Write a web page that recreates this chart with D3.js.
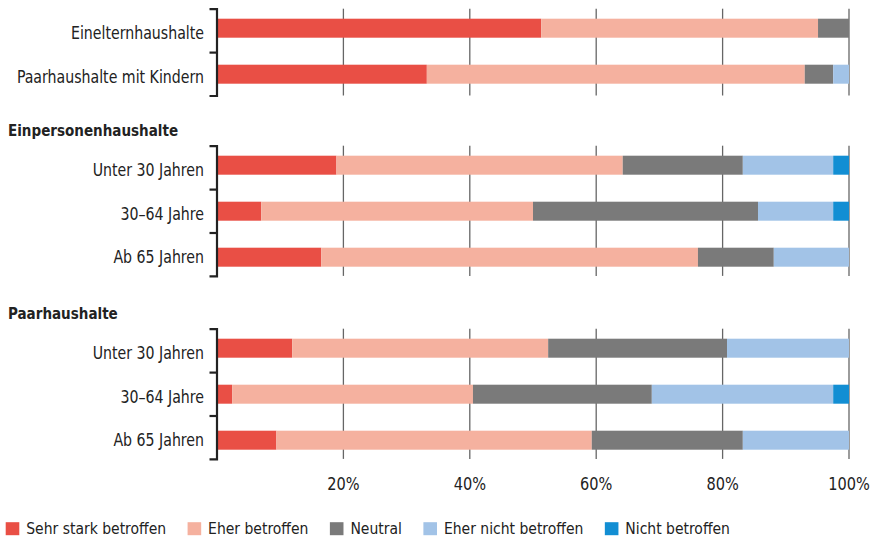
<!DOCTYPE html>
<html><head><meta charset="utf-8">
<script src="https://cdn.jsdelivr.net/npm/d3@7"></script>
<style>
html,body{margin:0;padding:0;background:#fff;}
svg text{font-family:"DejaVu Sans Condensed","Roboto",sans-serif;fill:#222;}
</style></head>
<body><svg id="c" width="871" height="537"></svg>
<script>
// ---- data ----
const groupTitles = ["", "Einpersonenhaushalte", "Paarhaushalte"];
const categories = ["Einelternhaushalte", "Paarhaushalte mit Kindern",
  "Unter 30 Jahren", "30–64 Jahre", "Ab 65 Jahren",
  "Unter 30 Jahren", "30–64 Jahre", "Ab 65 Jahren"];
const categoryGroup = [0, 0, 1, 1, 1, 2, 2, 2];
const seriesNames = ["Sehr stark betroffen", "Eher betroffen", "Neutral", "Eher nicht betroffen", "Nicht betroffen"];
const sehrStark      = [51.3, 33.2, 18.9,  7.0, 16.5, 11.9,  2.4,  9.4];
const eherBetroffen  = [43.8, 59.8, 45.3, 43.0, 59.6, 40.5, 38.1, 49.9];
const neutral        = [ 4.9,  4.5, 19.0, 35.6, 12.0, 28.3, 28.3, 23.9];
const eherNicht      = [ 0.0,  2.5, 14.3, 11.9, 11.9, 19.3, 28.7, 16.8];
const nichtBetroffen = [ 0.0,  0.0,  2.5,  2.5,  0.0,  0.0,  2.5,  0.0];
const xTicks = [20, 40, 60, 80, 100];
const xTickLabels = ["20%", "40%", "60%", "80%", "100%"];

// ---- styles / layout ----
const colors = ["#e94f45", "#f5b19f", "#7a7a7a", "#a2c3e7", "#128ed3"];
const series = [sehrStark, eherBetroffen, neutral, eherNicht, nichtBetroffen];
const svg = d3.select("#c");
const x = d3.scaleLinear().domain([0, 100]).range([217, 849]);
const panelTops = [8.7, 145.7, 328.7];
const bracketStep = 43.4;
const barStep = 46, barH = 19;

function squeeze(t, ratio) {
  const w = t.node().getComputedTextLength();
  t.attr("textLength", w * ratio).attr("lengthAdjust", "spacingAndGlyphs");
  return w * ratio;
}

const stackData = categories.map((c, i) => {
  const o = {i};
  seriesNames.forEach((s, k) => o[s] = series[k][i]);
  return o;
});
const stacked = d3.stack().keys(seriesNames)(stackData);

groupTitles.forEach((title, g) => {
  const idx = categories.map((c, i) => i).filter(i => categoryGroup[i] === g);
  const n = idx.length;
  const top = panelTops[g];
  const bottom = top + bracketStep * n;
  const gEl = svg.append("g");
  // header
  if (title) {
    const ht = gEl.append("text").attr("x", 8).attr("y", top - 9.5)
      .attr("font-size", 16.5).attr("font-weight", "bold").text(title);
    squeeze(ht, 0.91);
  }
  // gridlines
  gEl.selectAll("line.grid").data(xTicks).join("line")
    .attr("x1", d => x(d)).attr("x2", d => x(d))
    .attr("y1", top).attr("y2", bottom)
    .attr("stroke", "#666").attr("stroke-width", 1.3);
  // bars
  const yb = d3.scaleBand().domain(idx)
    .range([top + 10 - (barStep - barH) / 2, top + 10 - (barStep - barH) / 2 + barStep * n])
    .paddingInner((barStep - barH) / barStep).paddingOuter((barStep - barH) / barStep / 2);
  stacked.forEach((layer, k) => {
    gEl.selectAll(null).data(idx.filter(i => layer[i][1] - layer[i][0] > 0)).join("rect")
      .attr("x", i => x(layer[i][0])).attr("width", i => x(layer[i][1]) - x(layer[i][0]))
      .attr("y", i => yb(i)).attr("height", yb.bandwidth())
      .attr("fill", colors[k]);
  });
  // bracket axis
  const yBr = d3.scaleLinear().domain([0, n]).range([top, bottom]);
  const ax = d3.axisLeft(yBr).tickValues(d3.range(1, n)).tickSize(7).tickSizeOuter(7).tickFormat("");
  const axG = gEl.append("g").attr("transform", "translate(216.5,0)").call(ax);
  axG.select(".domain").attr("stroke", "#222").attr("stroke-width", 2.2).attr("fill", "none");
  axG.selectAll(".tick line").attr("stroke", "#222").attr("stroke-width", 2.2);
  // labels
  idx.forEach((i, r) => {
    const lt = gEl.append("text").attr("x", 204).attr("y", yBr(r + 0.5) + 8.8)
      .attr("text-anchor", "end").attr("font-size", 17).text(categories[i]);
    squeeze(lt, 0.925);
  });
});

// x tick labels
svg.selectAll("text.xt").data(xTicks).join("text")
  .attr("x", d => x(d)).attr("y", 490).attr("text-anchor", "middle")
  .attr("font-size", 17).text((d, i) => xTickLabels[i])
  .each(function () { squeeze(d3.select(this), 0.95); });

// legend
let lx = 5.7;
seriesNames.forEach((s, k) => {
  svg.append("rect").attr("x", lx).attr("y", 522.2).attr("width", 13.6).attr("height", 13).attr("fill", colors[k]);
  const t = svg.append("text").attr("x", lx + 20.5).attr("y", 534).attr("font-size", 16.5).text(s);
  const w = squeeze(t, 0.94);
  lx += 20.5 + w + 21.5;
});
</script></body></html>
